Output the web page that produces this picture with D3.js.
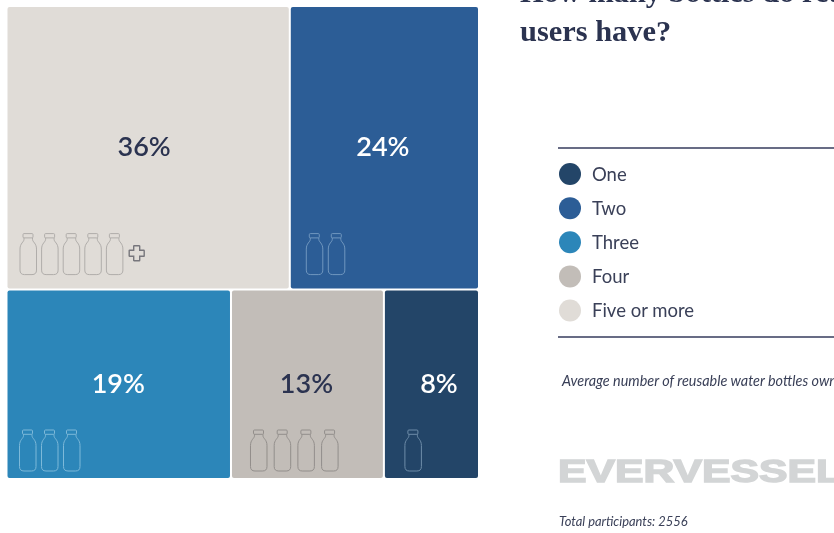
<!DOCTYPE html>
<html><head><meta charset="utf-8">
<script src="https://cdn.jsdelivr.net/npm/d3@7"></script>
<style>html,body{margin:0;padding:0;background:#fff;overflow:hidden}svg{display:block;filter:blur(0.45px)}</style>
</head><body><svg id="c" width="834" height="533"></svg>
<script>
const categories = ["Five or more","Two","Three","Four","One"];
const values = [36,24,19,13,8];
const rows = [0,0,1,1,1];
const bottles = [5,2,3,4,1];
const legendOrder = ["One","Two","Three","Four","Five or more"];
const colors = {"One":"#234568","Two":"#2c5d96","Three":"#2c86b9","Four":"#c2bdb8","Five or more":"#e0dcd7"};
const textColors = {"One":"#ffffff","Two":"#ffffff","Three":"#ffffff","Four":"#2b3350","Five or more":"#2b3350"};
const bottleStroke = {"One":"#6f8da9","Two":"#7097bf","Three":"#7db9d9","Four":"#928e8b","Five or more":"#b0adaa"};
const labelShift = {"One":8,"Two":-1,"Three":-1,"Four":-1,"Five or more":-4.5};
const titleLines = ["How many bottles do reusable bottle","users have?"];
const note = "Average number of reusable water bottles owned by each respondent";
const total = "Total participants: 2556";
const logo = "EVERVESSEL";

const svg = d3.select("#c");
const root = d3.hierarchy({children:d3.range(2).map(r=>({children:categories.map((c,i)=>({c,v:values[i],b:bottles[i],r:rows[i]})).filter(d=>d.r===r)}))})
  .sum(d=>d.v||0);
d3.treemap()
  .tile((n,x0,y0,x1,y1)=> n.depth===0 ? d3.treemapSlice(n,x0,y0,x1,y1) : d3.treemapDice(n,x0,y0,x1,y1))
  .size([472,472]).paddingInner(0).round(false)(root);
const sx = d3.scaleLinear().domain([0,472]).range([7.5,478]);
const sy = d3.scaleLinear().domain([0,472]).range([7,478]);
const leaves = root.leaves();
const g = svg.selectAll("g.cell").data(leaves).join("g").attr("class","cell");
g.append("rect")
 .attr("x",d=>sx(d.x0)+(d.x0>0?1:0)).attr("y",d=>sy(d.y0)+(d.y0>0?1:0))
 .attr("width",d=>sx(d.x1)-sx(d.x0)-(d.x0>0?1:0)-(d.x1<472?1:0))
 .attr("height",d=>sy(d.y1)-sy(d.y0)-(d.y0>0?1:0)-(d.y1<472?1:0))
 .attr("rx",2).attr("fill",d=>colors[d.data.c]);
g.append("text")
 .attr("x",d=>(sx(d.x0)+sx(d.x1))/2+labelShift[d.data.c]).attr("y",d=>(sy(d.y0)+sy(d.y1))/2-(d.y1<472?2:0.5))
 .attr("dy","0.36em").attr("text-anchor","middle")
 .style("font","600 27px Lato").attr("fill",d=>textColors[d.data.c])
 .text(d=>d.data.v+"%");

const bottlePath = "M4.5,0.5 H12.5 Q13.5,0.5 13.5,1.5 V3.8 Q13.5,4.8 12.5,4.8 H4.5 Q3.5,4.8 3.5,3.8 V1.5 Q3.5,0.5 4.5,0.5 Z M4.5,4.8 V6.2 C4.5,9 0.5,10 0.5,16 V37 Q0.5,41.5 5,41.5 H12.5 Q17,41.5 17,37 V16 C17,10 13,9 13,6.2 V4.8";
const plusPath = "M-2.6,-7.5 H2.6 Q3,-7.5 3,-7 V-3 H7 Q7.5,-3 7.5,-2.6 V2.6 Q7.5,3 7,3 H3 V7 Q3,7.5 2.6,7.5 H-2.6 Q-3,7.5 -3,7 V3 H-7 Q-7.5,3 -7.5,2.6 V-2.6 Q-7.5,-3 -7,-3 H-3 V-7 Q-3,-7.5 -2.6,-7.5 Z";
const stepOf = {"Five or more":21.6,"Two":22,"Three":22,"Four":23.7,"One":22};
const insetOf = {"Five or more":12,"Two":16,"Three":11.5,"Four":19,"One":20.5};
g.each(function(d){
  const s = d3.select(this), c = d.data.c;
  const x0 = sx(d.x0)+insetOf[c], y0 = sy(d.y1)-(d.y1<472?56.5:48.5);
  d3.range(d.data.b).forEach(i=>{
    s.append("path").attr("d",bottlePath).attr("fill","none")
     .attr("stroke",bottleStroke[c]).attr("stroke-width",1)
     .attr("transform",`translate(${x0+i*stepOf[c]},${y0})`);
  });
  if(d.data.b===5){
    s.append("path").attr("d",plusPath).attr("fill","none").attr("stroke","#77767c").attr("stroke-width",1.4)
     .attr("transform",`translate(136.7,253.3)`);
  }
});

svg.selectAll("text.title").data(titleLines).join("text").attr("class","title")
 .attr("x",520).attr("y",(d,i)=>2+i*39)
 .style("font","700 30.4px 'Liberation Serif'").attr("fill","#2b3350").text(d=>d);

const rule = [148,337];
svg.selectAll("line.rule").data(rule).join("line").attr("class","rule")
 .attr("x1",558).attr("x2",834).attr("y1",d=>d).attr("y2",d=>d)
 .attr("stroke","#363b5c").attr("stroke-width",1.4);

const ly = d3.scalePoint().domain(legendOrder).range([174,310.5]);
const lg = svg.selectAll("g.leg").data(legendOrder).join("g").attr("class","leg")
 .attr("transform",d=>`translate(0,${ly(d)})`);
lg.append("circle").attr("cx",570).attr("r",11).attr("fill",d=>colors[d]);
lg.append("text").attr("x",592).attr("dy","0.36em").style("font","400 18.5px Lato").attr("fill","#3a4058").text(d=>d);

svg.append("text").attr("x",562).attr("y",386).style("font","italic 400 14.4px Lato").attr("fill","#3a4058").text(note);
svg.append("text").attr("x",558).attr("y",481.5).attr("textLength",284).attr("lengthAdjust","spacingAndGlyphs")
 .style("font","700 30.5px 'Liberation Sans'").attr("fill","#d3d5d6").attr("stroke","#d3d5d6").attr("stroke-width",1.4).text(logo);
svg.append("text").attr("x",559).attr("y",526).style("font","italic 400 12.9px Lato").attr("fill","#3a4058").text(total);
</script></body></html>
